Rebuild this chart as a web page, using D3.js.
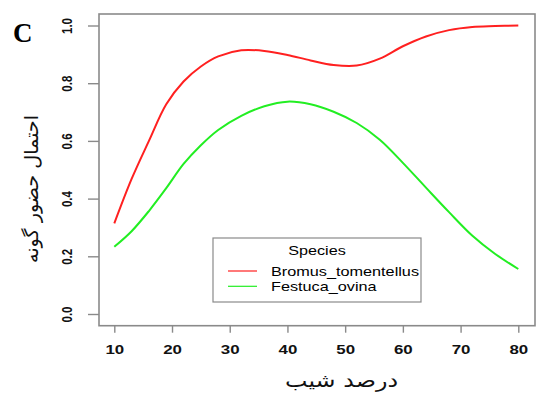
<!DOCTYPE html>
<html><head><meta charset="utf-8">
<script src="https://cdn.jsdelivr.net/npm/d3@7"></script>
<style>body{margin:0;background:#fff}svg{display:block}</style>
</head><body>
<svg id="c" width="545" height="394"></svg>
<script>
const slope = [10,13,16,19,22,25,28,32,36,40,44,48,52,56,60,64,68,72,76,80];
const bromus = [0.314,0.468,0.600,0.727,0.806,0.858,0.893,0.914,0.912,0.898,0.879,0.863,0.861,0.885,0.928,0.962,0.984,0.995,0.998,1.0];
const festuca = [0.233,0.287,0.357,0.436,0.520,0.585,0.638,0.687,0.720,0.736,0.727,0.701,0.662,0.604,0.524,0.438,0.353,0.272,0.208,0.156];
const xTicks = [10,20,30,40,50,60,70,80];
const yTicks = [0,0.2,0.4,0.6,0.8,1.0];
const yTickLabels = ["0.0","0.2","0.4","0.6","0.8","1.0"];
const seriesNames = ["Bromus_tomentellus","Festuca_ovina"];
const seriesColors = ["#ff2020","#22ee22"];
const legendTitle = "Species";
const xTitle = "درصد شیب";
const yTitle = "احتمال حضور گونه";
const panel = "C";

const svg = d3.select("#c");
const x = d3.scaleLinear().domain([10,80]).range([114.3,518.3]);
const y = d3.scaleLinear().domain([0,1]).range([314,25.5]);
const box = {l:99,r:535,t:14,b:325.7};
const gray = "#8a8a8a";

svg.append("rect").attr("x",box.l).attr("y",box.t).attr("width",box.r-box.l).attr("height",box.b-box.t)
  .attr("fill","none").attr("stroke",gray).attr("stroke-width",1.6);

const gx = svg.append("g").attr("transform",`translate(0,${box.b})`)
  .call(d3.axisBottom(x).tickValues(xTicks).tickSize(7).tickFormat(d3.format("d")));
gx.select(".domain").remove();
gx.selectAll(".tick line").attr("stroke",gray).attr("stroke-width",1.4);
gx.selectAll(".tick text").attr("y",0).attr("dy",null)
  .attr("transform","translate(0,28.5) scale(1.3,1)")
  .attr("font-family","Liberation Sans, Arial, sans-serif").attr("font-weight","bold")
  .attr("font-size",13).attr("fill","#111");

const gy = svg.append("g").attr("transform",`translate(${box.l},0)`)
  .call(d3.axisLeft(y).tickValues(yTicks).tickSize(11).tickFormat((d,i)=>yTickLabels[i]));
gy.select(".domain").remove();
gy.selectAll(".tick line").attr("stroke",gray).attr("stroke-width",1.4);
gy.selectAll(".tick text").attr("x",0).attr("y",0).attr("dy",null)
  .attr("text-anchor","middle")
  .attr("transform","translate(-27,0) scale(1.2,1) rotate(-90)")
  .attr("font-family","Liberation Sans, Arial, sans-serif").attr("font-weight","bold")
  .attr("font-size",11.5).attr("fill","#111");

const line = d3.line().x(d=>x(d[0])).y(d=>y(d[1])).curve(d3.curveCatmullRom.alpha(0.5));
[bromus,festuca].forEach((vals,i)=>{
  svg.append("path").datum(slope.map((s,j)=>[s,vals[j]]))
    .attr("d",line).attr("fill","none").attr("stroke",seriesColors[i]).attr("stroke-width",2);
});

const lg = {l:213,t:238,r:421,b:302};
svg.append("rect").attr("x",lg.l).attr("y",lg.t).attr("width",lg.r-lg.l).attr("height",lg.b-lg.t)
  .attr("fill","#fff").attr("stroke",gray).attr("stroke-width",1.2);
svg.append("text").attr("transform","translate(317,255) scale(1.35,1)").attr("text-anchor","middle")
  .attr("font-family","Liberation Sans, Arial, sans-serif").attr("font-size",12).attr("fill","#000").text(legendTitle);
seriesNames.forEach((n,i)=>{
  const yy = 271 + i*15.3;
  svg.append("line").attr("x1",228).attr("x2",257).attr("y1",yy).attr("y2",yy)
    .attr("stroke",seriesColors[i]).attr("stroke-width",1.2);
  svg.append("text").attr("transform",`translate(271,${yy+5}) scale(1.3,1)`)
    .attr("font-family","Liberation Sans, Arial, sans-serif").attr("font-size",12.5).attr("fill","#000").text(n);
});

svg.append("text").attr("x",341.5).attr("y",387).attr("text-anchor","middle")
  .attr("font-family","DejaVu Serif, DejaVu Sans, sans-serif").attr("font-size",19).attr("fill","#111")
  .attr("textLength",113).attr("lengthAdjust","spacingAndGlyphs").text(xTitle);
svg.append("text").attr("transform","translate(38,189) rotate(-90)").attr("text-anchor","middle")
  .attr("font-family","DejaVu Serif, DejaVu Sans, sans-serif").attr("font-size",19).attr("fill","#111")
  .attr("textLength",148).attr("lengthAdjust","spacingAndGlyphs").text(yTitle);

svg.append("text").attr("x",13).attr("y",42)
  .attr("font-family","Liberation Serif, Times New Roman, serif").attr("font-weight","bold")
  .attr("font-size",27).attr("fill","#000").text(panel);
</script>
</body></html>
